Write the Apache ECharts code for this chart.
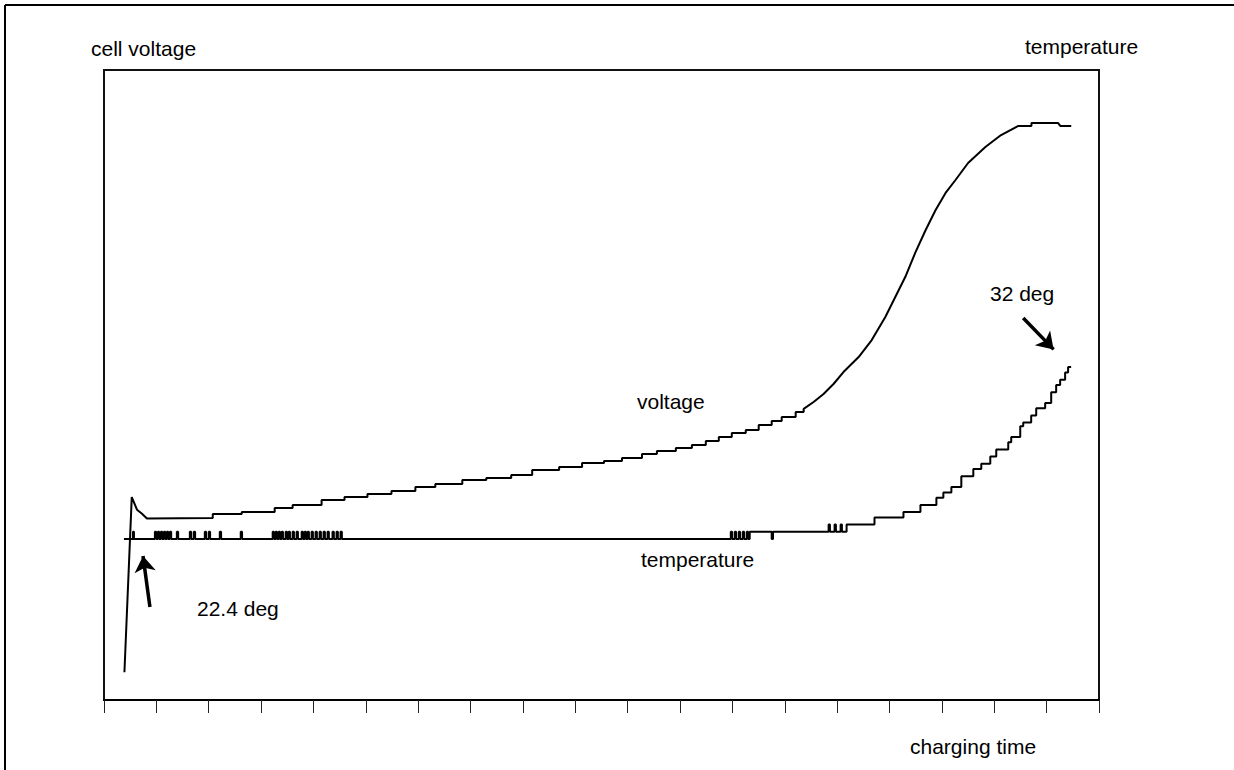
<!DOCTYPE html>
<html>
<head>
<meta charset="utf-8">
<script src="https://cdn.jsdelivr.net/npm/echarts@6/dist/echarts.min.js"></script>
<style>
html,body{margin:0;padding:0;background:#fff;}
#chart{width:1234px;height:770px;}
</style>
</head>
<body>
<div id="chart"></div>
<script>
// ---- data (time in tick units, voltage in V, temperature in deg C) ----
const xTickCount = 19;

// initial voltage jump and relaxation
const rampTime = [0.39, 0.53, 0.63, 0.72, 0.82];
const rampVolt = [1.122, 1.261, 1.251, 1.248, 1.244];

// stepped plateau (each level starts at stepTime[i])
const stepTime = [0.82, 2.077, 2.630, 3.259, 3.602, 4.155, 4.593, 5.031, 5.489, 5.946,
                  6.327, 6.842, 7.300, 7.776, 8.176, 8.691, 9.129, 9.548, 9.891, 10.273,
                  10.558, 10.920, 11.226, 11.492, 11.740, 11.988, 12.255, 12.502, 12.750, 12.941, 13.208];
const stepVolt = [1.2444, 1.2476, 1.2492, 1.2524, 1.2548, 1.2587, 1.2611, 1.2635, 1.2659, 1.2690,
                  1.2714, 1.2746, 1.2762, 1.2786, 1.2825, 1.2849, 1.2881, 1.2897, 1.2921, 1.2952,
                  1.2976, 1.3000, 1.3024, 1.3056, 1.3087, 1.3119, 1.3143, 1.3183, 1.3214, 1.3246, 1.3286];
const stepEnd = 13.36;

// steep rise and peak
const riseTime = [13.36, 13.55, 13.74, 13.93, 14.12, 14.41, 14.66, 14.92, 15.11, 15.30,
                  15.49, 15.69, 15.88, 16.07, 16.26, 16.50, 16.83, 17.13, 17.46, 17.71,
                  17.71, 18.22, 18.26, 18.47];
const riseVolt = [1.3310, 1.3365, 1.3429, 1.3508, 1.3603, 1.3722, 1.3857, 1.4040, 1.4198, 1.4357,
                  1.4548, 1.4730, 1.4889, 1.5024, 1.5127, 1.5262, 1.5389, 1.5484, 1.5556, 1.5556,
                  1.5579, 1.5579, 1.5556, 1.5556];

// temperature (stepped sensor readings)
const tempTime = [0.381, 0.553, 0.572,
  0.972, 0.997, 1.029, 1.054, 1.086, 1.111, 1.144, 1.169, 1.201, 1.226, 1.258, 1.283,
  1.391, 1.416, 1.639, 1.664, 1.715, 1.740, 1.925, 1.950, 2.001, 2.026, 2.211, 2.236,
  2.611, 2.636, 3.221, 3.246, 3.278, 3.303, 3.335, 3.360, 3.392, 3.417, 3.469, 3.494,
  3.526, 3.551, 3.602, 3.627, 3.678, 3.703, 3.774, 3.799, 3.831, 3.856, 3.888, 3.913,
  3.964, 3.989, 4.040, 4.065, 4.117, 4.142, 4.193, 4.218, 4.269, 4.294, 4.364, 4.389,
  4.441, 4.466, 4.517, 4.542,
  11.969, 11.994, 12.045, 12.070, 12.121, 12.146, 12.198, 12.223, 12.274, 12.299, 12.330,
  12.750, 12.775,
  13.837, 13.862, 13.951, 13.976, 14.066, 14.091, 14.180,
  14.713, 15.266, 15.590, 15.895, 16.028, 16.181, 16.371, 16.600, 16.752, 16.924,
  17.038, 17.267, 17.324, 17.496, 17.553, 17.705, 17.801, 17.972, 18.087, 18.182,
  18.258, 18.353, 18.410, 18.468];
const tempValue = [22.4, 22.8, 22.4,
  22.8, 22.4, 22.8, 22.4, 22.8, 22.4, 22.8, 22.4, 22.8, 22.4, 22.8, 22.4,
  22.8, 22.4, 22.8, 22.4, 22.8, 22.4, 22.8, 22.4, 22.8, 22.4, 22.8, 22.4,
  22.8, 22.4, 22.8, 22.4, 22.8, 22.4, 22.8, 22.4, 22.8, 22.4, 22.8, 22.4,
  22.8, 22.4, 22.8, 22.4, 22.8, 22.4, 22.8, 22.4, 22.8, 22.4, 22.8, 22.4,
  22.8, 22.4, 22.8, 22.4, 22.8, 22.4, 22.8, 22.4, 22.8, 22.4, 22.8, 22.4,
  22.8, 22.4, 22.8, 22.4,
  22.8, 22.4, 22.8, 22.4, 22.8, 22.4, 22.8, 22.4, 22.8, 22.4, 22.8,
  22.4, 22.8,
  23.2, 22.8, 23.2, 22.8, 23.2, 22.8, 23.2,
  23.6, 23.9, 24.3, 24.7, 25.0, 25.3, 25.9, 26.3, 26.6, 27.0,
  27.4, 27.8, 28.1, 28.7, 28.9, 29.3, 29.7, 30.0, 30.6, 31.0,
  31.3, 31.7, 32.0, 32.0];

// annotation arrows: [tailTime, tailTemp, headTime, headTemp]
const arrowLow = [0.877, 18.60, 0.745, 21.45];
const arrowHigh = [17.553, 34.74, 18.133, 32.99];

// ---- build series data ----
const voltData = [];
rampTime.forEach((t, i) => voltData.push([t, rampVolt[i]]));
stepTime.forEach((t, i) => {
  const next = i + 1 < stepTime.length ? stepTime[i + 1] : stepEnd;
  voltData.push([t, stepVolt[i]]);
  voltData.push([next, stepVolt[i]]);
});
riseTime.forEach((t, i) => voltData.push([t, riseVolt[i]]));

const tempData = tempTime.map((t, i) => [t, tempValue[i]]);

const FONT = '"Liberation Sans", Arial, Helvetica, sans-serif';
const chart = echarts.init(document.getElementById('chart'), null, {renderer: 'svg'});

function label(text, x, y) {
  return {
    type: 'text', x: x, y: y, silent: true,
    style: {text: text, fill: '#000', font: '21px ' + FONT,
            align: 'left', verticalAlign: 'middle', textAlign: 'left', textVerticalAlign: 'middle'}
  };
}

chart.setOption({
  animation: false,
  backgroundColor: '#fff',
  grid: {left: 104, right: 135, top: 70, bottom: 70, show: true, borderColor: '#111', borderWidth: 2, backgroundColor: 'transparent'},
  xAxis: {
    type: 'value', min: 0, max: xTickCount, interval: 1,
    axisLine: {show: true, lineStyle: {color: '#000', width: 2}},
    axisTick: {show: true, inside: false, length: 13, lineStyle: {color: '#222', width: 1}},
    axisLabel: {show: false},
    splitLine: {show: false}
  },
  yAxis: [
    {type: 'value', min: 1.1, max: 1.6, show: false, splitLine: {show: false}},
    {type: 'value', min: 13.4, max: 48.6, show: false, splitLine: {show: false}}
  ],
  series: [
    {
      name: 'voltage', type: 'line', data: voltData, yAxisIndex: 0,
      showSymbol: false, symbol: 'none', silent: true,
      lineStyle: {color: '#000', width: 2}
    },
    {
      name: 'temperature', type: 'line', data: tempData, yAxisIndex: 1, step: 'end',
      showSymbol: false, symbol: 'none', silent: true,
      lineStyle: {color: '#000', width: 2},
      markLine: {
        silent: true, animation: false,
        symbol: ['none', 'arrow'], symbolSize: 16,
        label: {show: false},
        lineStyle: {color: '#000', width: 3.5, type: 'solid'},
        emphasis: {disabled: true},
        data: [
          [{coord: [arrowLow[0], arrowLow[1]]}, {coord: [arrowLow[2], arrowLow[3]]}],
          [{coord: [arrowHigh[0], arrowHigh[1]]}, {coord: [arrowHigh[2], arrowHigh[3]]}]
        ]
      }
    }
  ],
  graphic: [
    {type: 'line', silent: true, shape: {x1: 5, y1: 5, x2: 1234, y2: 5}, style: {stroke: '#000', lineWidth: 2}},
    {type: 'line', silent: true, shape: {x1: 5, y1: 5, x2: 5, y2: 770}, style: {stroke: '#000', lineWidth: 2}},
    label('cell voltage', 91, 48),
    label('temperature', 1025, 46),
    label('charging time', 910, 746),
    label('voltage', 637, 401),
    label('temperature', 641, 559),
    label('22.4 deg', 197, 608),
    label('32 deg', 990, 293)
  ]
});
</script>
</body>
</html>
